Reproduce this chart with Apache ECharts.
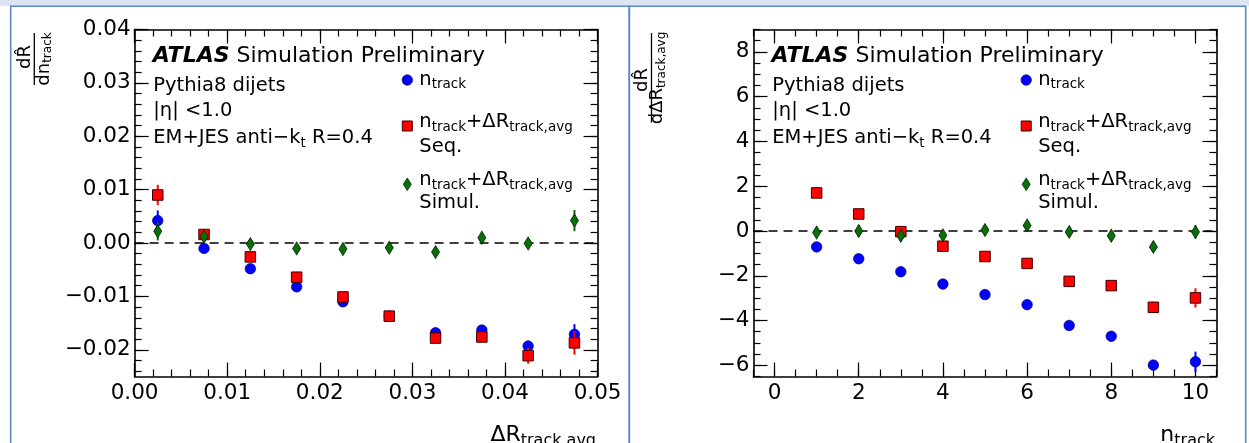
<!DOCTYPE html>
<html><head><meta charset="utf-8">
<script src="https://cdn.jsdelivr.net/npm/echarts@6/dist/echarts.min.js"></script>
<style>html,body{margin:0;padding:0;background:#fff}#c{width:1249px;height:443px}</style>
</head><body><div id="c"></div>
<script>
// ---------------- Left panel: versus ΔR_track,avg ----------------
const leftX = [0.0025, 0.0075, 0.0125, 0.0175, 0.0225, 0.0275, 0.0325, 0.0375, 0.0425, 0.0475];
const leftNtrack    = [0.0042, -0.0010, -0.0048, -0.0082, -0.0110, -0.0137, -0.0168, -0.0163, -0.0193, -0.0171];
const leftNtrackErr = [0.0019, 0.0005, 0.0005, 0.0005, 0.0005, 0.0005, 0.0006, 0.0008, 0.0010, 0.0019];
const leftSeq       = [0.0090, 0.0016, -0.0026, -0.0064, -0.0101, -0.0137, -0.0178, -0.0176, -0.0211, -0.0187];
const leftSeqErr    = [0.0019, 0.0006, 0.0005, 0.0005, 0.0005, 0.0006, 0.0007, 0.0010, 0.0015, 0.0022];
const leftSimul     = [0.0022, 0.0012, -0.0002, -0.0010, -0.0011, -0.0009, -0.0017, 0.0010, -0.0001, 0.0042];
const leftSimulErr  = [0.0017, 0.0008, 0.0005, 0.0005, 0.0005, 0.0005, 0.0006, 0.0008, 0.0008, 0.0020];
const leftXTicks = [0, 0.01, 0.02, 0.03, 0.04, 0.05];
const leftYTicks = [-0.02, -0.01, 0, 0.01, 0.02, 0.03, 0.04];

// ---------------- Right panel: versus n_track ----------------
const rightX = [1, 2, 3, 4, 5, 6, 7, 8, 9, 10];
const rightNtrack    = [-0.71, -1.24, -1.82, -2.37, -2.84, -3.29, -4.22, -4.70, -5.99, -5.84];
const rightNtrackErr = [0.08, 0.08, 0.08, 0.08, 0.09, 0.10, 0.12, 0.14, 0.20, 0.45];
const rightSeq       = [1.70, 0.76, -0.03, -0.68, -1.14, -1.45, -2.25, -2.44, -3.41, -2.99];
const rightSeqErr    = [0.08, 0.08, 0.08, 0.08, 0.09, 0.10, 0.12, 0.14, 0.25, 0.43];
const rightSimul     = [-0.07, 0.00, -0.21, -0.19, 0.04, 0.25, -0.04, -0.21, -0.71, -0.04];
const rightSimulErr  = [0.08, 0.08, 0.08, 0.08, 0.09, 0.10, 0.12, 0.14, 0.20, 0.30];
const rightXTicks = [0, 2, 4, 6, 8, 10];
const rightYTicks = [-6, -4, -2, 0, 2, 4, 6, 8];

const FONT = 'DejaVu Sans';
const BLUE = '#0000ff', RED = '#ff0000', GREEN = '#0a6e0a';

function range(a, b, step) { // axis minor-tick positions
  const out = []; const n = Math.round((b - a) / step);
  for (let i = 0; i <= n; i++) out.push(+(a + i * step).toFixed(6));
  return out;
}
const fmt2 = v => (v < 0 ? '\u2212' : '') + Math.abs(v).toFixed(2);
const fmt0 = v => (v < 0 ? '\u2212' : '') + Math.abs(v);

const panels = [
  { grid: { left: 134.6, top: 29.5, width: 463, height: 347 },
    xr: [0, 0.05], yr: [-0.025, 0.04],
    xMaj: leftXTicks, yMaj: leftYTicks,
    xMin: range(0, 0.05, 0.002), yMin: range(-0.024, 0.04, 0.002),
    fx: fmt2, fy: fmt2,
    x: leftX, s: [[leftNtrack, leftNtrackErr, BLUE], [leftSeq, leftSeqErr, RED], [leftSimul, leftSimulErr, GREEN]] },
  { grid: { left: 753.5, top: 29.5, width: 463, height: 347 },
    xr: [-0.5, 10.5], yr: [-6.5, 9],
    xMaj: rightXTicks, yMaj: rightYTicks,
    xMin: range(-0.5, 10.5, 0.5), yMin: range(-6.5, 9, 0.5),
    fx: fmt0, fy: fmt0,
    x: rightX, s: [[rightNtrack, rightNtrackErr, BLUE], [rightSeq, rightSeqErr, RED], [rightSimul, rightSimulErr, GREEN]] }
];

const grid = [], xAxis = [], yAxis = [], series = [];
const axisLine = { show: true, onZero: false, lineStyle: { color: '#000', width: 1.6 } };
const labelStyle = { color: '#000', fontFamily: FONT, fontSize: 21.5 };

panels.forEach((p, pi) => {
  grid.push(Object.assign({ containLabel: false }, p.grid));
  const mk = (dim, pos, ticks, len, major, labeled) => {
    const r = dim === 'x' ? p.xr : p.yr;
    return {
      type: 'value', gridIndex: pi, position: pos, min: r[0], max: r[1],
      axisLine: major ? axisLine : { show: false, onZero: false },
      axisTick: { show: true, inside: true, length: len, customValues: ticks, lineStyle: { color: '#000', width: 1.2 } },
      axisLabel: labeled ? Object.assign({ show: true, customValues: ticks, formatter: dim === 'x' ? p.fx : p.fy,
        margin: dim === 'x' ? 6 : 4 }, labelStyle) : { show: false },
      splitLine: { show: false }, minorTick: { show: false }, splitNumber: 5
    };
  };
  xAxis.push(mk('x', 'bottom', p.xMaj, 14, true, true));
  xAxis.push(mk('x', 'top', p.xMaj, 14, true, false));
  xAxis.push(mk('x', 'top', p.xMin, 7, false, false));
  xAxis.push(mk('x', 'bottom', p.xMin, 7, false, false));
  yAxis.push(mk('y', 'left', p.yMaj, 14, true, true));
  yAxis.push(mk('y', 'right', p.yMaj, 14, true, false));
  yAxis.push(mk('y', 'right', p.yMin, 7, false, false));
  yAxis.push(mk('y', 'left', p.yMin, 7, false, false));

  const ai = pi * 4;
  const symbols = [
    { symbol: 'circle', symbolSize: 10.5, border: '#00007a', bw: 0.7 },
    { symbol: 'rect', symbolSize: 10.5, border: '#3a0000', bw: 1 },
    { symbol: 'diamond', symbolSize: [8, 13], border: '#002a00', bw: 0.8 }
  ];
  p.s.forEach((s, si) => {
    const [vals, errs, color] = s;
    series.push({
      type: 'custom', xAxisIndex: ai, yAxisIndex: ai, silent: true, animation: false,
      z: 9 + si * 2, clip: false,
      data: p.x.map((x, i) => [x, vals[i], errs[i]]),
      encode: { x: 0, y: 1 },
      renderItem: (params, api) => {
        const x = api.value(0), y = api.value(1), e = api.value(2);
        const a = api.coord([x, y - e]), b = api.coord([x, y + e]);
        return { type: 'line', shape: { x1: a[0], y1: a[1], x2: b[0], y2: b[1] },
          style: { stroke: color, lineWidth: 2 } };
      }
    });
    const sy = symbols[si];
    const ser = {
      type: 'scatter', xAxisIndex: ai, yAxisIndex: ai, animation: false, silent: true,
      z: 10 + si * 2, symbol: sy.symbol, symbolSize: sy.symbolSize,
      itemStyle: { color: color, borderColor: sy.border, borderWidth: sy.bw, opacity: 1 },
      data: p.x.map((x, i) => [x, vals[i]])
    };
    if (si === 0) {
      ser.markLine = { silent: true, symbol: ['none', 'none'], animation: false, label: { show: false },
        lineStyle: { color: '#000', width: 1.5, type: [9, 6] }, data: [{ yAxis: 0 }] };
    }
    series.push(ser);
  });
});

// ---------------- text / decoration ----------------
const MAIN = 19.5, SUB = 13.5;
const richBase = {
  m: { fontSize: MAIN, fontFamily: FONT, fill: '#000', lineHeight: 24 },
  s: { fontSize: SUB, fontFamily: FONT, fill: '#000', lineHeight: 24, padding: [10, 0, 0, 0] }
};
function txt(x, y, text, opts) {
  opts = opts || {};
  return {
    type: 'text', x: x, y: y, rotation: opts.rot || 0, silent: true, z: 50,
    style: Object.assign({
      text: text, fill: '#000', fontFamily: FONT, fontSize: opts.size || MAIN,
      align: opts.align || 'left', verticalAlign: 'middle',
      textAlign: opts.align || 'left', textVerticalAlign: 'middle',
      rich: opts.rich || richBase
    }, opts.style || {})
  };
}
const graphic = [];
graphic.push({ type: 'rect', shape: { x: 0, y: 0, width: 1249, height: 6 }, style: { fill: '#dce6f2' }, silent: true });
graphic.push({ type: 'rect', shape: { x: 10.7, y: 6.2, width: 618.6, height: 450 }, style: { fill: 'none', stroke: '#5a87c6', lineWidth: 1.6 }, silent: true });
graphic.push({ type: 'rect', shape: { x: 629.3, y: 6.2, width: 616.4, height: 450 }, style: { fill: 'none', stroke: '#5a87c6', lineWidth: 1.6 }, silent: true });

panels.forEach((p, pi) => {
  const L = p.grid.left;
  graphic.push(txt(L + 18.1, 56, '{b|ATLAS}{r| Simulation Preliminary}', { rich: {
    b: { fontSize: 22, fontFamily: FONT, fontWeight: 'bold', fontStyle: 'italic', fill: '#000' },
    r: { fontSize: 22, fontFamily: FONT, fill: '#000' } } }));
  graphic.push(txt(L + 18.7, 86.3, '{m|Pythia8 dijets}'));
  graphic.push(txt(L + 18.7, 110.7, '{m||\u03b7| <1.0}'));
  graphic.push(txt(L + 18.7, 138.3, '{m|EM+JES anti\u2212k}{s|t}{m| R=0.4}'));
  // legend
  const mx = L + 272.7, tx = L + 284.7;
  graphic.push({ type: 'circle', shape: { cx: mx, cy: 80, r: 5.2 }, style: { fill: BLUE, stroke: '#00007a', lineWidth: 0.7 }, silent: true, z: 50 });
  graphic.push({ type: 'rect', shape: { x: mx - 5, y: 121, width: 10, height: 10 }, style: { fill: RED, stroke: '#3a0000', lineWidth: 1 }, silent: true, z: 50 });
  graphic.push({ type: 'polygon', shape: { points: [[mx, 178], [mx + 4, 184.3], [mx, 190.6], [mx - 4, 184.3]] }, style: { fill: GREEN, stroke: '#002a00', lineWidth: 0.8 }, silent: true, z: 50 });
  graphic.push(txt(tx, 79.6, '{m|n}{s|track}'));
  graphic.push(txt(tx, 122, '{m|n}{s|track}{m|+\u0394R}{s|track,avg}'));
  graphic.push(txt(tx, 146.5, '{m|Seq.}'));
  graphic.push(txt(tx, 180, '{m|n}{s|track}{m|+\u0394R}{s|track,avg}'));
  graphic.push(txt(tx, 203, '{m|Simul.}'));
});

// y-axis titles (rotated fractions)
const yRich = {
  m: { fontSize: 18, fontFamily: FONT, fill: '#000', lineHeight: 20 },
  s: { fontSize: 12, fontFamily: FONT, fill: '#000', lineHeight: 20, padding: [8, 0, 0, 0] }
};
graphic.push(txt(25.8, 57, '{m|dR\u0302}', { rot: Math.PI / 2, align: 'center', rich: yRich }));
graphic.push({ type: 'line', shape: { x1: 34.3, y1: 33, x2: 34.3, y2: 85 }, style: { stroke: '#000', lineWidth: 1.3 }, silent: true });
graphic.push(txt(44.1, 59, '{m|dn}{s|track}', { rot: Math.PI / 2, align: 'center', rich: yRich }));
graphic.push(txt(642.4, 80, '{m|dR\u0302}', { rot: Math.PI / 2, align: 'center', rich: yRich }));
graphic.push({ type: 'line', shape: { x1: 651.5, y1: 33, x2: 651.5, y2: 122.7 }, style: { stroke: '#000', lineWidth: 1.3 }, silent: true });
graphic.push(txt(657.4, 78, '{m|d\u0394R}{s|track,avg}', { rot: Math.PI / 2, align: 'center', rich: yRich }));

// x-axis titles
const xRich = {
  m: { fontSize: 22, fontFamily: FONT, fill: '#000', lineHeight: 26 },
  s: { fontSize: 16, fontFamily: FONT, fill: '#000', lineHeight: 26, padding: [12, 0, 0, 0] }
};
graphic.push(txt(596, 435, '{m|\u0394R}{s|track,avg}', { align: 'right', rich: xRich }));
graphic.push(txt(1215, 435, '{m|n}{s|track}', { align: 'right', rich: xRich }));

const chart = echarts.init(document.getElementById('c'), null, { renderer: 'canvas' });
chart.setOption({
  animation: false,
  backgroundColor: '#ffffff',
  grid: grid, xAxis: xAxis, yAxis: yAxis, series: series, graphic: graphic
});
</script></body></html>
